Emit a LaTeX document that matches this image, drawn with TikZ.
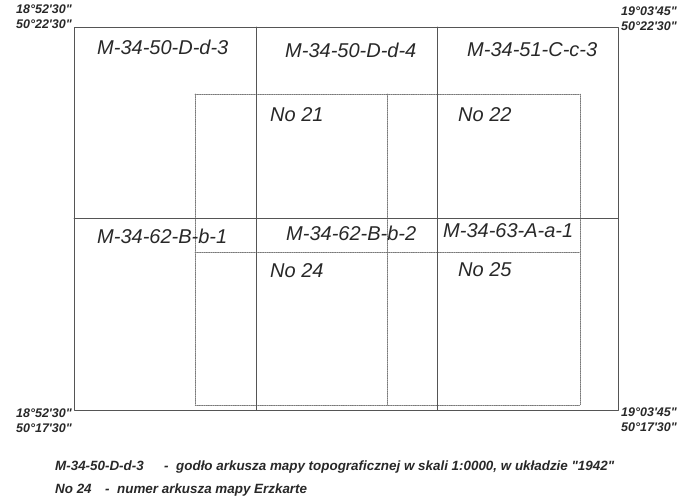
\documentclass[tikz,border=0pt]{standalone}
\usepackage{fontspec}
\setmainfont{Liberation Sans}
\usepackage{tkz-euclide}
\definecolor{GridClr}{RGB}{85,85,85}
\definecolor{SheetClr}{RGB}{120,120,120}
\definecolor{TextClr}{RGB}{40,40,40}
\newcommand{\dms}[3]{#1°#2\textquotesingle#3\textquotedbl}

\begin{document}
\begin{tikzpicture}[x=1pt,y=1pt,
  godlo/.style={font=\itshape\fontsize{20}{24}\selectfont,text=TextClr,anchor=west,inner sep=0pt},
  corner/.style={font=\bfseries\itshape\fontsize{12.5}{15}\selectfont,text=TextClr,inner sep=0pt},
  legend/.style={font=\bfseries\itshape\fontsize{13.4}{15}\selectfont,text=TextClr,anchor=base west,inner sep=0pt}]
\useasboundingbox (0,0) rectangle (687,499);

\tkzDefPoints{74/472/A,618/472/B,618/89/C,74/89/D}
\tkzDefPoints{256/472/E1,256/89/E2,437/472/F1,437/89/F2,74/281/G1,618/281/G2}
% Erzkarte sheets
\tkzDefPoints{195/405/P1,580/405/P2,580/94/P3,195/94/P4}
\tkzDefPoints{387/405/Q1,387/94/Q2,195/247/R1,580/247/R2}

\tkzDrawPolygon[color=SheetClr,line width=0.8pt,densely dotted](P1,P2,P3,P4)
\tkzDrawSegments[color=SheetClr,line width=0.8pt,densely dotted](Q1,Q2 R1,R2)

\tkzDrawPolygon[color=GridClr,line width=0.9pt](A,B,C,D)
\tkzDrawSegments[color=GridClr,line width=0.9pt](E1,E2 F1,F2 G1,G2)

\node[godlo] (d3) at (97,452) {M-34-50-D-d-3};
\node[godlo] (d4) at (285,449) {M-34-50-D-d-4};
\node[godlo] (c3) at (467,449) {M-34-51-C-c-3};
\node[godlo] (b1) at (97,263) {M-34-62-B-b-1};
\node[godlo] (b2) at (286,266) {M-34-62-B-b-2};
\node[godlo] (a1) at (443,268) {M-34-63-A-a-1};
\node[godlo] (n21) at (270,384) {No 21};
\node[godlo] (n22) at (458,384) {No 22};
\node[godlo] (n24) at (270,228) {No 24};
\node[godlo] (n25) at (458,229) {No 25};

\node[corner,align=right,anchor=north east] (nw) at (72,494) {\dms{18}{52}{30}\\\dms{50}{22}{30}};
\node[corner,align=left,anchor=north west] (ne) at (621,492) {\dms{19}{03}{45}\\\dms{50}{22}{30}};
\node[corner,align=right,anchor=north east] (sw) at (72,90) {\dms{18}{52}{30}\\\dms{50}{17}{30}};
\node[corner,align=left,anchor=north west] (se) at (621,91) {\dms{19}{03}{45}\\\dms{50}{17}{30}};

\node[legend] (k1) at (55,29) {M-34-50-D-d-3};
\node[legend] (k1d) at (164,29) {-};
\node[legend] (k1t) at (176,29) {godło arkusza mapy topograficznej w skali 1:0000, w układzie \textquotedbl 1942\textquotedbl};
\node[legend] (k2) at (55,6) {No 24};
\node[legend] (k2d) at (105,6) {-};
\node[legend] (k2t) at (117,6) {numer arkusza mapy Erzkarte};

% \tkzLabelPoint[above left](A){$A$}
\end{tikzpicture}
\end{document}
